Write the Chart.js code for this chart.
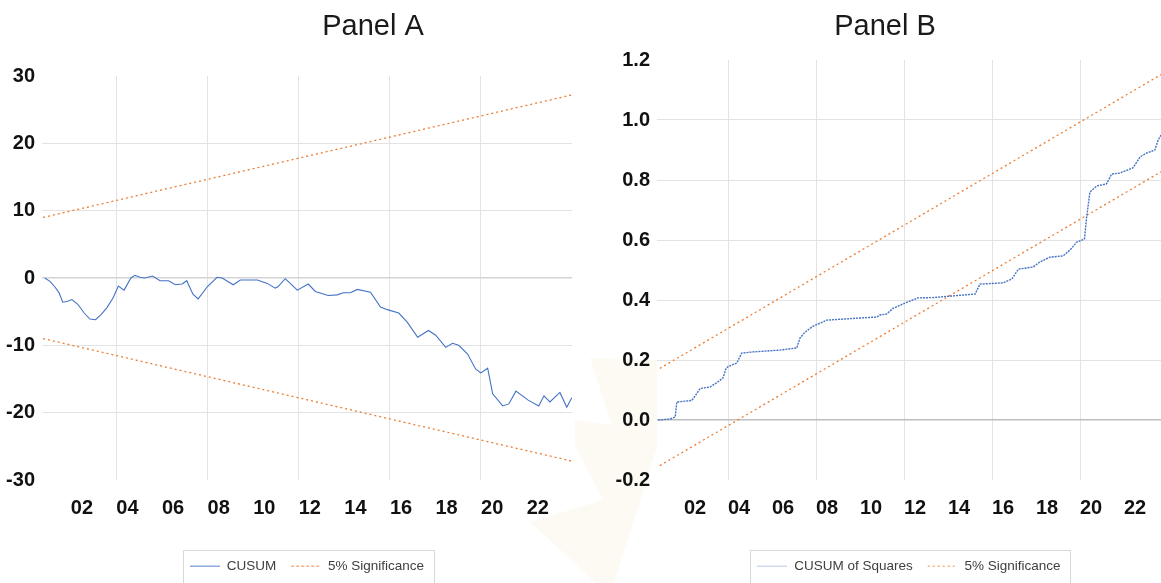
<!DOCTYPE html>
<html>
<head>
<meta charset="utf-8">
<script src="https://cdn.jsdelivr.net/npm/chart.js@4.4.1/dist/chart.umd.min.js"></script>
<style>
  html, body { margin: 0; padding: 0; background: #ffffff; }
  body { width: 1161px; height: 583px; position: relative; overflow: hidden; }
  canvas { position: absolute; top: 0; }
  #cA { left: 0; }
  #cB { left: 590px; }
  #wm { position: absolute; left: 0; top: 0; width: 1161px; height: 583px; background: #fcfaf3;
        clip-path: polygon(590px 358px, 657px 360px, 657px 447px, 614px 583px, 596px 583px, 530px 522px, 603px 500px, 575px 445px, 575px 420px, 612px 425px); }
</style>
</head>
<body>
<div id="wm"></div>
<canvas id="cA" width="590" height="583"></canvas>
<canvas id="cB" width="571" height="583"></canvas>
<script>
// ---------- DATA ----------
const xTickYears  = [2002, 2004, 2006, 2008, 2010, 2012, 2014, 2016, 2018, 2020, 2022];
const xTickLabels = ['02', '04', '06', '08', '10', '12', '14', '16', '18', '20', '22'];
const gridYears   = [2003.5, 2007.5, 2011.5, 2015.5, 2019.5];

// Panel A: CUSUM
const cusumYears = [2000.37, 2000.6, 2000.81, 2001.0, 2001.16, 2001.35, 2001.56, 2001.82, 2002.1, 2002.35,
  2002.6, 2002.85, 2003.1, 2003.36, 2003.6, 2003.85, 2004.15, 2004.33, 2004.55, 2004.75,
  2005.1, 2005.43, 2005.8, 2006.1, 2006.4, 2006.6, 2006.87, 2007.1, 2007.5, 2007.93,
  2008.15, 2008.64, 2008.95, 2009.7, 2010.13, 2010.48, 2010.6, 2010.92, 2011.14, 2011.45,
  2011.93, 2012.24, 2012.8, 2013.2, 2013.47, 2013.78, 2014.08, 2014.66, 2015.1, 2015.4,
  2015.9, 2016.28, 2016.73, 2017.2, 2017.52, 2017.96, 2018.26, 2018.53, 2018.92, 2019.27,
  2019.5, 2019.8, 2020.02, 2020.46, 2020.73, 2021.04, 2021.56, 2022.04, 2022.27, 2022.53,
  2022.97, 2023.27, 2023.49];
const cusumValues = [0, -0.5, -1.3, -2.2, -3.6, -3.5, -3.2, -3.9, -5.2, -6.1,
  -6.2, -5.4, -4.4, -3.0, -1.2, -1.8, 0, 0.4, 0.1, 0.0,
  0.3, -0.4, -0.4, -1.0, -0.9, -0.4, -2.4, -3.1, -1.3, 0.1,
  0, -1.0, -0.3, -0.3, -0.8, -1.5, -1.3, -0.1, -0.8, -1.8,
  -0.9, -2.0, -2.6, -2.5, -2.2, -2.2, -1.7, -2.1, -4.3, -4.7,
  -5.2, -6.6, -8.8, -7.8, -8.5, -10.3, -9.7, -10.0, -11.3, -13.5,
  -14.1, -13.4, -17.2, -19.0, -18.7, -16.8, -18.1, -19.0, -17.5, -18.4,
  -17.0, -19.2, -17.8];
const sigAYears = [2000.3, 2023.5];
const sigAUpper = [9.0, 27.2];
const sigALower = [-9.0, -27.2];

// Panel B: CUSUM of Squares
const cusumSqYears = [2000.33, 2000.86, 2001.1, 2001.17, 2001.85, 2002.0, 2002.23, 2002.68, 2003.0, 2003.27,
  2003.4, 2003.5, 2003.9, 2004.12, 2004.64, 2005.86, 2006.62, 2006.77, 2007.0, 2007.37,
  2008.0, 2009.5, 2010.26, 2010.4, 2010.7, 2011.0, 2011.55, 2012.14, 2012.8, 2013.6,
  2014.73, 2014.95, 2016.0, 2016.4, 2016.7, 2017.37, 2017.68, 2018.14, 2018.73, 2019.05,
  2019.35, 2019.7, 2019.8, 2019.95, 2020.26, 2020.7, 2020.94, 2021.3, 2021.9, 2022.23,
  2022.53, 2022.9, 2023.05, 2023.18];
const cusumSqValues = [0, 0.003, 0.01, 0.06, 0.065, 0.08, 0.105, 0.11, 0.125, 0.14,
  0.17, 0.178, 0.19, 0.223, 0.227, 0.233, 0.24, 0.273, 0.293, 0.313,
  0.333, 0.34, 0.343, 0.35, 0.353, 0.372, 0.39, 0.407, 0.408, 0.413,
  0.42, 0.453, 0.457, 0.47, 0.503, 0.51, 0.527, 0.543, 0.547, 0.567,
  0.593, 0.603, 0.677, 0.76, 0.78, 0.787, 0.82, 0.823, 0.84, 0.877,
  0.89, 0.9, 0.933, 0.95];
const sigBYears = [2000.4, 2023.5];
const sigBUpper = [0.172, 1.165];
const sigBLower = [-0.152, 0.841];

const yTicksA = { min: -30, max: 30, step: 10 };
const yTicksB = { min: -0.2, max: 1.2, step: 0.2 };

// ---------- STYLE ----------
const BLUE = '#4472C4';
const ORANGE = '#ED7D31';
const GRID = '#e3e3e3';
const SANS = "'Liberation Sans Narrow', 'Liberation Sans', Arial, sans-serif";
const TICKFONT = { family: SANS, size: 20, weight: 'bold' };

const toPts = (xs, ys) => xs.map((x, i) => ({ x: x, y: ys[i] }));

const panelTitle = {
  id: 'panelTitle',
  afterDraw(chart, args, opts) {
    const c = chart.ctx;
    c.save();
    c.font = '29px "Liberation Sans", Arial, sans-serif';
    c.fillStyle = '#1a1a1a';
    c.textAlign = 'center';
    c.textBaseline = 'alphabetic';
    c.fillText(opts.text, opts.x, opts.y);
    c.restore();
  }
};

const legendBox = {
  id: 'legendBox',
  afterDraw(chart) {
    const lg = chart.legend;
    if (!lg || !lg.legendHitBoxes || !lg.legendHitBoxes.length) return;
    const hb = lg.legendHitBoxes;
    const left = hb[0].left - 7;
    const last = hb[hb.length - 1];
    const right = last.left + last.width + 10;
    const top = lg.top + 5;
    const c = chart.ctx;
    c.save();
    c.strokeStyle = '#d9d9d9';
    c.lineWidth = 1;
    c.strokeRect(Math.round(left) + 0.5, Math.round(top) + 0.5, Math.round(right - left), 80);
    c.restore();
  }
};

function legendLabels(chart) {
  const items = Chart.defaults.plugins.legend.labels.generateLabels(chart);
  return items.filter(it => it.datasetIndex < 2).map(it => {
    const ds = chart.data.datasets[it.datasetIndex];
    it.lineDash = ds.legendDash;
    it.strokeStyle = ds.legendColor;
    it.fillStyle = ds.legendColor;
    it.lineWidth = 1.3;
    return it;
  });
}

function makeChart(id, cfg) {
  return new Chart(document.getElementById(id), {
    type: 'line',
    data: { datasets: cfg.datasets },
    options: {
      responsive: false,
      animation: false,
      devicePixelRatio: 1,
      layout: { padding: { top: cfg.padTop, bottom: 0, left: 0, right: cfg.padRight } },
      elements: { point: { radius: 0 }, line: { tension: 0 } },
      scales: {
        x: {
          type: 'linear', position: 'bottom',
          min: cfg.xmin, max: cfg.xmax,
          grid: { display: false },
          border: { display: false },
          afterBuildTicks: ax => { ax.ticks = xTickYears.map(v => ({ value: v })); },
          afterFit: ax => { ax.height = 64.5; },
          ticks: {
            autoSkip: false, maxRotation: 0, minRotation: 0, padding: 8,
            color: '#111', font: TICKFONT,
            callback: (v) => { const i = xTickYears.indexOf(v); return i >= 0 ? xTickLabels[i] : ''; }
          }
        },
        xg: {
          type: 'linear', position: 'bottom',
          min: cfg.xmin, max: cfg.xmax,
          afterBuildTicks: ax => { ax.ticks = gridYears.map(v => ({ value: v })); },
          afterFit: ax => { ax.height = 0; },
          grid: { color: GRID, lineWidth: 1, drawTicks: false },
          border: { display: false },
          ticks: { display: false }
        },
        y: {
          min: cfg.y.min, max: cfg.y.max,
          afterFit: ax => { ax.width = cfg.yWidth; },
          border: { display: false },
          grid: {
            drawTicks: false,
            lineWidth: (c) => (Math.abs(c.tick.value) < 1e-9 ? cfg.zeroWidth : 1),
            color: (c) => {
              const v = c.tick.value;
              if (Math.abs(v - cfg.y.min) < 1e-9 || Math.abs(v - cfg.y.max) < 1e-9) return 'rgba(0,0,0,0)';
              if (Math.abs(v) < 1e-9) return cfg.zeroColor;
              return GRID;
            }
          },
          ticks: {
            stepSize: cfg.y.step, padding: 7, color: '#111', font: TICKFONT,
            callback: cfg.yFmt
          }
        }
      },
      plugins: {
        title: { display: false },
        tooltip: { enabled: false },
        panelTitle: { text: cfg.title, x: cfg.titleX, y: 35 },
        legend: {
          display: true, position: 'bottom', fullSize: false,
          labels: {
            usePointStyle: true, pointStyleWidth: 30, padding: 15,
            color: '#404040',
            font: { family: SANS, size: 13.5 },
            generateLabels: legendLabels
          }
        }
      }
    },
    plugins: [panelTitle, legendBox]
  });
}

makeChart('cA', {
  title: 'Panel A', titleX: 373, padTop: 76,
  xmin: 2000.25, xmax: 2023.5,
  y: yTicksA, yWidth: 42, padRight: 18,
  zeroColor: '#d4d4d4', zeroWidth: 1.5,
  yFmt: v => String(Math.round(v)),
  datasets: [
    { label: 'CUSUM', data: toPts(cusumYears, cusumValues), borderColor: BLUE, backgroundColor: BLUE,
      borderWidth: 1.1, pointStyle: 'line', legendColor: '#8eaadb', legendDash: [] },
    { label: '5% Significance', data: toPts(sigAYears, sigAUpper), borderColor: ORANGE, backgroundColor: ORANGE,
      borderWidth: 1.3, borderDash: [2, 3], pointStyle: 'line', legendColor: '#f4b183', legendDash: [3, 2] },
    { label: '5% Significance', data: toPts(sigAYears, sigALower), borderColor: ORANGE, backgroundColor: ORANGE,
      borderWidth: 1.3, borderDash: [2, 3], pointStyle: 'line' }
  ]
});

makeChart('cB', {
  title: 'Panel B', titleX: 295, padTop: 60,
  xmin: 2000.27, xmax: 2023.18,
  y: yTicksB, yWidth: 67, padRight: 0,
  zeroColor: '#bdbdbd', zeroWidth: 1.5,
  yFmt: v => (Math.round(v * 10) / 10).toFixed(1),
  datasets: [
    { label: 'CUSUM of Squares', data: toPts(cusumSqYears, cusumSqValues), borderColor: BLUE, backgroundColor: BLUE,
      borderWidth: 1.4, borderDash: [2, 1], pointStyle: 'line', legendColor: '#8eaadb', legendDash: [1, 1] },
    { label: '5% Significance', data: toPts(sigBYears, sigBUpper), borderColor: ORANGE, backgroundColor: ORANGE,
      borderWidth: 1.3, borderDash: [2, 3], pointStyle: 'line', legendColor: '#f4b183', legendDash: [2, 3] },
    { label: '5% Significance', data: toPts(sigBYears, sigBLower), borderColor: ORANGE, backgroundColor: ORANGE,
      borderWidth: 1.3, borderDash: [2, 3], pointStyle: 'line' }
  ]
});
</script>
</body>
</html>
